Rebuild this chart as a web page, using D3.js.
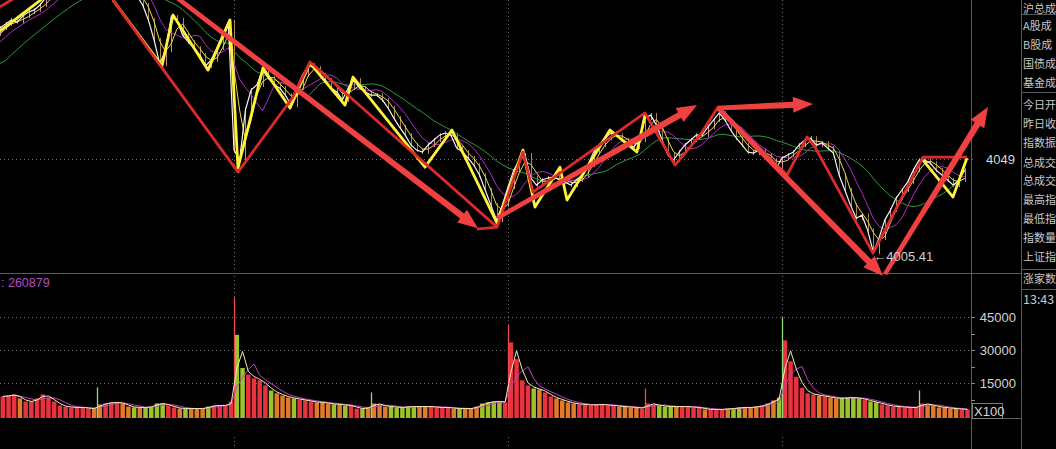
<!DOCTYPE html>
<html><head><meta charset="utf-8">
<script src="https://cdn.jsdelivr.net/npm/d3@7"></script>
<style>
html,body{margin:0;padding:0;background:#000;overflow:hidden;}
svg{display:block;}
</style></head><body>
<svg id="c" width="1056" height="449"></svg>
<script>
// ---------------- DATA ----------------
const firstBarMinute = 35;      // minute index (day1 09:30 = 0) of first visible 5-min bar
const barMinutes = 5;
const dayBreaks = [240, 480, 720];
const prevCloseLevel = 4049;
const volTicks = [15000, 30000, 45000];
const volTotalText = ": 260879";
const volUnit = "X100";
// closes of bars just before the visible window (needed for moving averages)
const preCloses = [4076.7,4079.0,4082.3,4085.1,4088.4,4090.7,4094.5,4097.8,4100.1,4102.4,4104.8,4107.6];
// 5-minute closes
const closes = [
 4110.4,4112.3,4114.2,4113.2,4116.0,4117.9,4118.9,4121.2,4124.5,4127.3,
 4129.2,4130.6,4132.0,4132.9,4133.9,4135.3,4133.9,4132.9,4134.8,4136.7,
 4137.6,4135.3,4132.0,4128.2,4125.4,4121.2,4114.2,4104.8,4093.6,4100.0,
 4115.6,4114.2,4107.1,4103.8,4101.0,4097.8,4092.6,4095.4,4101.0,4107.1,
 4113.2,
 4053.2,4048.5,4072.0,4081.4,4083.7,4090.7,4087.0,4083.7,4082.3,4079.0,
 4074.3,4082.3,4088.4,4093.1,4091.7,4088.4,4086.0,4082.3,4080.4,4076.7,
 4082.3,4086.0,4082.3,4080.4,4079.0,4079.0,4076.7,4072.9,4068.2,4064.0,
 4060.2,4055.6,4053.2,4052.3,4055.6,4057.9,4060.2,4061.2,4060.2,4054.2,
 4052.3,4049.5,4046.2,4041.5,4034.5,4027.4,4020.4,4027.4,
 4035.9,4043.8,4048.5,4050.9,4040.1,4036.8,4039.2,4040.1,4040.6,4039.2,
 4038.2,4036.8,4039.2,4041.5,4046.2,4052.3,4055.6,4058.8,4061.2,4060.2,
 4057.9,4056.5,4054.6,4057.9,4068.2,4069.6,4064.9,4057.9,4050.9,4048.5,
 4052.3,4055.6,4057.9,4060.2,4060.2,4064.0,4067.3,4070.6,4067.3,4062.6,
 4058.8,4055.6,4052.3,4051.8,4053.2,4050.9,4048.5,4044.8,
 4049.5,4050.9,4052.3,4055.6,4057.9,4058.8,4055.6,4056.5,4054.2,4051.8,
 4041.5,4034.5,4027.4,4021.3,4022.7,4015.7,4005.41,4012.0,4020.4,4025.1,
 4030.7,4034.5,4038.2,4043.8,4048.5,4048.5,4047.1,4043.8,4041.5,4039.2,
 4036.8,4039.2,4043.8
];
// 5-minute volumes (x100)
const volumes = [
 9100,9500,10000,8200,6800,6800,8200,10000,8600,
 6800,5000,4500,4100,4100,4100,3600,3600,
 5500,5900,6400,6400,5900,4500,4100,4100,4100,4500,5900,5900,
 5000,4100,3600,3600,3600,3600,3600,4500,5000,5000,5000,6800,
 37000,22000,19000,17300,16400,14100,11800,10500,9500,8600,8200,7700,7300,6800,6400,6400,5900,5500,5500,5000,5000,
 3600,3600,4100,5900,5500,4500,4500,4100,4100,4500,4500,4500,4500,4500,4100,4100,4100,3600,3600,3600,3600,4500,5900,6400,6800,6800,6400,
 33600,26000,16400,14100,12700,12300,10900,9100,8200,7300,6400,5900,5500,5500,5000,5500,5500,5000,5000,4500,4500,4100,4100,3600,5900,5500,5000,4500,4500,4500,4500,4500,4100,4100,
 3200,3200,3200,3200,3600,3600,4100,4100,4100,4500,5000,5900,7300,8600,
 34500,25000,18000,13000,10500,10000,9500,9100,8600,8200,8200,8600,8600,8200,7700,6800,6400,5500,5000,4500,4500,4100,4100,4100,5900,5500,5000,4100,4100,3600,3600,3200,3200
];
// one-minute opening spikes (session opens)
const spikeMinutes = [120, 240, 360, 480, 600, 720, 840];
const spikeVolumes = [13200, 54000, 10900, 41400, 12700, 45000, 11800];
const spikeUp      = [false, true, false, true, true, false, false];
// hand-drawn annotations, [minute, price]
const yellowStrokes = [
 [[35,4109],[73,4124.5]],
 [[134.0,4123.5],[176.9,4092.6],[186.6,4116.5],[217.2,4090.7],[236.5,4114.2],[243.5,4044.8],[265.4,4091.7],[289.1,4072.9],[306.6,4094.0],[337.2,4074.3],[344.2,4087.4],[407.3,4045.2],[430.9,4062.6],[470.4,4019.0],[493.1,4053.2],[503.6,4026.5],[525.5,4045.2],[531.7,4029.8],[569.3,4062.6],[592.9,4052.3],[600,4069.6]],
 [[843.5,4048.5],[869.8,4031.2],[882.0,4049.5]]
];
const redStrokes = [
 [[35,4120.3],[46.4,4124]],
 [[134.0,4123.5],[176.9,4091.7],[243.5,4042.9],[291.7,4078.1],[306.6,4094.5],[341.6,4078.1],[470.4,4017.1],[493.1,4052.3],[501.9,4033.5],[600,4070.6],[626.3,4046.2],[648.2,4060.2],[664.0,4073.4],[724.4,4041.5],[741.9,4059.3],[748.9,4054.6],[799.7,4004.9],[843.5,4049.9],[882.0,4049.9]],
 [[452.8,4016.2],[470.4,4017.1]]
];
const arrows = [
 [[185.7,4126.4],[453.7,4016.6]],
 [[470.4,4021.3],[645.6,4074.3]],
 [[664.0,4072.9],[747.2,4074.8]],
 [[664.0,4072.9],[808.5,3994.2]],
 [[810.2,3995.1],[900.4,4073.4]]
];
const panelLabels = ['沪总成','A股成','B股成','国债成','基金成','今日开','昨日收','指数振','总成交','总成交','最高指','最低指','指数量','上证指','涨家数','13:43'];

// ---------------- SCALES ----------------
const xScale = d3.scaleLinear().domain([0, 960]).range([-40, 1056]);
const yPrice = d3.scaleLinear().domain([3995.6, 4123.54]).range([273, 0]);
const yVol = d3.scaleLinear().domain([0, 45000]).range([416.5, 317.2]);

const svg = d3.select('#c');
svg.append('rect').attr('width',1056).attr('height',449).attr('fill','#000');
const defs = svg.append('defs');
defs.append('clipPath').attr('id','pc').append('rect').attr('x',0).attr('y',0).attr('width',971).attr('height',273);
defs.append('clipPath').attr('id','vc').append('rect').attr('x',0).attr('y',275).attr('width',971).attr('height',144);

const frame = '#5a5a5a', dot = '#6e6e6e';
function line(g,x1,y1,x2,y2,c,w,dash){const l=g.append('line').attr('x1',x1).attr('y1',y1).attr('x2',x2).attr('y2',y2).attr('stroke',c).attr('stroke-width',w||1); if(dash) l.attr('stroke-dasharray',dash); return l;}

// grid
const grid = svg.append('g');
dayBreaks.forEach(t=>{
  const x = Math.round(xScale(t))+0.5;
  line(grid,x,0,x,271,dot,1,'1,3');
  line(grid,x,276,x,418,dot,1,'1,3');
  line(grid,x,437,x,449,dot,1,'1,3');
});
line(grid,0,Math.round(yPrice(prevCloseLevel))+0.5,976,Math.round(yPrice(prevCloseLevel))+0.5,dot,1,'1,3');
volTicks.forEach(v=>{const y=Math.round(yVol(v))+0.5; line(grid,0,y,971,y,dot,1,'1,3');});

// frame lines
line(svg,0,273.5,1022,273.5,frame);
line(svg,971.5,0,971.5,449,frame);
line(svg,1021.5,0,1021.5,449,frame);
line(svg,971,418.5,1022,418.5,frame);
[14.5,92.5,269.5,289.5].forEach(y=>line(svg,1022,y,1056,y,frame));

// derived series
const allC = preCloses.concat(closes);
const allT = allC.map((_,i)=> firstBarMinute + (i - preCloses.length)*barMinutes);
function sma(arr,n){return arr.map((_,i)=>{const s=Math.max(0,i-n+1);return d3.mean(arr.slice(s,i+1));});}
const startIdx = preCloses.length-1;
function series(vals){return vals.map((v,i)=>({t:allT[i],v})).slice(startIdx);}

const price = svg.append('g').attr('clip-path','url(#pc)');
// candle wicks
closes.forEach((c,i)=>{
  const prev = allC[preCloses.length+i-1];
  const x = Math.round(xScale(allT[preCloses.length+i]))+0.5;
  const y1 = yPrice(Math.max(prev,c))-2, y2 = yPrice(Math.min(prev,c))+2;
  line(price,x,y1,x,y2,c>=prev?'#eaa0a0':'#c89a58',1).attr('opacity',0.85);
});
const pline = d3.line().x(d=>xScale(d.t)).y(d=>yPrice(d.v));
[[sma(allC,14),'#2f9a3a'],[sma(allC,6),'#b02cc0'],[sma(allC,3),'#e6de4a']].forEach(([s,c])=>{
  price.append('path').attr('d',pline(series(s))).attr('fill','none').attr('stroke',c).attr('stroke-width',1);
});
price.append('path').attr('d',pline(series(allC))).attr('fill','none').attr('stroke','#f4f4f4').attr('stroke-width',1.2);

// volume
const vol = svg.append('g').attr('clip-path','url(#vc)');
volumes.forEach((v,i)=>{
  const k = preCloses.length+i;
  const d = allC[k]-allC[k-1];
  const col = d>0.8?'#e8323e':(d<-3.5?'#9cc22c':'#e07a2c');
  const t = allT[k];
  const x0 = xScale(t)+0.6, x1 = xScale(t+barMinutes)-0.6;
  vol.append('rect').attr('x',x0).attr('y',yVol(v)).attr('width',x1-x0).attr('height',yVol(0)+1.5-yVol(v)).attr('fill',col);
});
spikeMinutes.forEach((t,i)=>{
  const x = Math.round(xScale(t))+0.5;
  line(vol,x,yVol(spikeVolumes[i]),x,yVol(0)+1.5,spikeUp[i]?'#f04a4a':'#8fdc70',1.3);
});
const vSeries = volumes.map((v,i)=>({t:allT[preCloses.length+i]+2.5,v}));
const vline = d3.line().x(d=>xScale(d.t)).y(d=>yVol(d.v));
[[sma(volumes,4),'#c040c8'],[sma(volumes,2),'#f2eeb0']].forEach(([s,c])=>{
  vol.append('path').attr('d',vline(s.map((v,i)=>({t:vSeries[i].t,v})))).attr('fill','none').attr('stroke',c).attr('stroke-width',1);
});

// annotations
const ann = svg.append('g');
const aline = d3.line().x(d=>xScale(d[0])).y(d=>yPrice(d[1]));
yellowStrokes.forEach(s=>ann.append('path').attr('d',aline(s)).attr('fill','none').attr('stroke','#fff23a').attr('stroke-width',2.8).attr('stroke-linejoin','round'));
redStrokes.forEach(s=>ann.append('path').attr('d',aline(s)).attr('fill','none').attr('stroke','#dc2a2a').attr('stroke-width',2.8).attr('stroke-linejoin','round'));
arrows.forEach(([a,b])=>{
  const x0=xScale(a[0]),y0=yPrice(a[1]),x1=xScale(b[0]),y1=yPrice(b[1]);
  const ang=Math.atan2(y1-y0,x1-x0), hl=20, hw=8, sw=3.2;
  const ux=Math.cos(ang), uy=Math.sin(ang), px=-uy, py=ux;
  const bx=x1-ux*hl, by=y1-uy*hl;
  const pts=[[x0+px*sw*0.7,y0+py*sw*0.7],[bx+px*sw,by+py*sw],[bx+px*hw,by+py*hw],[x1,y1],[bx-px*hw,by-py*hw],[bx-px*sw,by-py*sw],[x0-px*sw*0.7,y0-py*sw*0.7]];
  ann.append('polygon').attr('points',pts.map(p=>p.join(',')).join(' ')).attr('fill','#f04040');
});

// texts
const numFont = "'Liberation Sans', Arial, sans-serif";
svg.append('text').attr('x',1015).attr('y',Math.round(yPrice(prevCloseLevel))+5).attr('text-anchor','end').attr('fill','#d8d8d8').attr('font-family',numFont).attr('font-size',13).text(String(prevCloseLevel));
const lowV = d3.min(closes), lowI = closes.indexOf(lowV);
svg.append('text').attr('x',xScale(allT[preCloses.length+lowI])).attr('y',yPrice(lowV)+9).attr('fill','#cfcfcf').attr('font-family',"'Liberation Sans','DejaVu Sans',sans-serif").attr('font-size',13).text('←'+lowV.toFixed(2));
svg.append('text').attr('x',1).attr('y',287).attr('fill','#b848c8').attr('font-family',numFont).attr('font-size',12.5).text(volTotalText);
volTicks.forEach(v=>{
  svg.append('text').attr('x',1016).attr('y',yVol(v)+5).attr('text-anchor','end').attr('fill','#d4d4d4').attr('font-family',numFont).attr('font-size',13).text(String(v));
});
// axis tick marks
d3.range(15000/2, 45001, 15000/2).forEach(v=>{const y=Math.round(yVol(v))+0.5; line(svg,971,y,975,y,'#8a8a8a');});
svg.append('rect').attr('x',972.5).attr('y',403.5).attr('width',30).attr('height',15).attr('fill','none').attr('stroke','#7a7a7a');
svg.append('text').attr('x',974).attr('y',416).attr('fill','#d8d8d8').attr('font-family',numFont).attr('font-size',13).text(volUnit);

// right info panel
const rowY = [8,25,44,63,82,104,123,142,162,180,199,218,237,256,278,299];
panelLabels.forEach((s,i)=>{
  svg.append('text').attr('x',1023).attr('y',rowY[i]+4.5).attr('fill','#c8c8c8').attr('font-family',"'Noto Sans CJK SC','Liberation Sans',sans-serif").attr('font-size',i===15?12.5:11).text(s);
});
</script>
</body></html>
